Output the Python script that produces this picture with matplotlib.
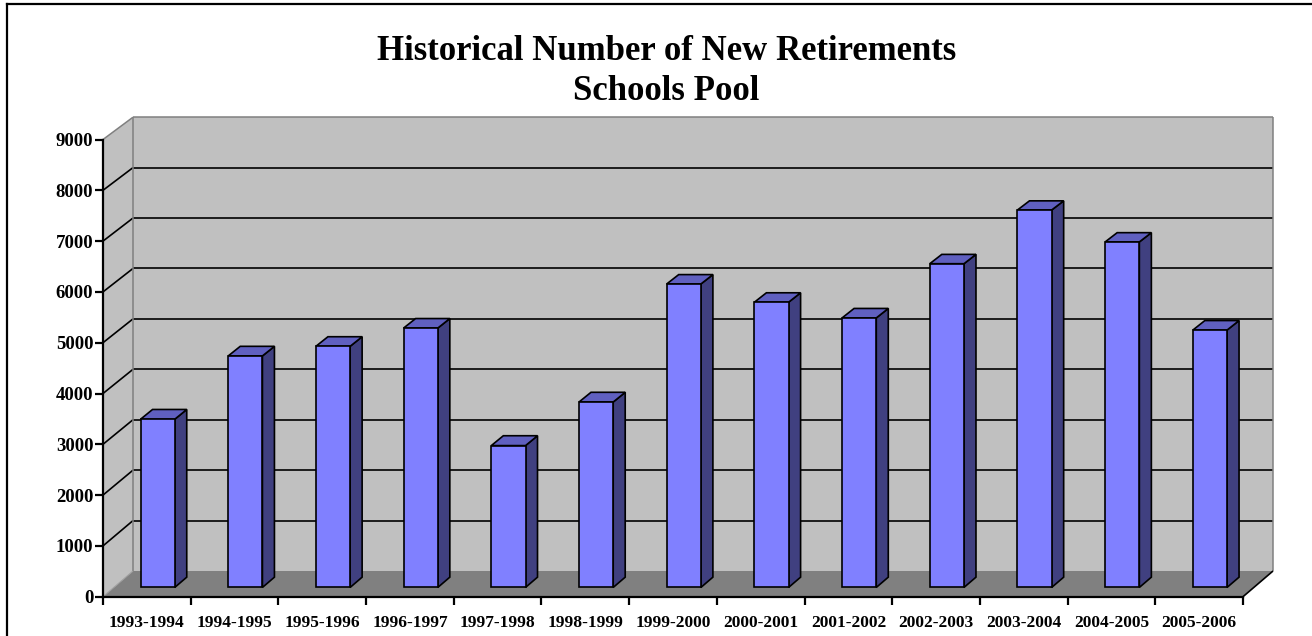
import matplotlib.pyplot as plt
from matplotlib.patches import Polygon
from matplotlib.lines import Line2D

# ------------------------------------------------------------
# data
# ------------------------------------------------------------
seasons = ["1993-1994", "1994-1995", "1995-1996", "1996-1997", "1997-1998",
           "1998-1999", "1999-2000", "2000-2001", "2001-2002", "2002-2003",
           "2003-2004", "2004-2005", "2005-2006"]
retirements = [3320, 4570, 4760, 5120, 2800, 3660, 5990,
               5630, 5320, 6390, 7450, 6820, 5080]

y_max = 9000
y_step = 1000

title_1 = "Historical Number of New Retirements"
title_2 = "Schools Pool"

# ------------------------------------------------------------
# figure / front plane of the box
# ------------------------------------------------------------
W, H = 1312, 636
fig = plt.figure(figsize=(W / 100, H / 100), dpi=100)

x0_px, x1_px = 103, 1243
y0_px, y1_px = 596.7, 139.5
ax = fig.add_axes([x0_px / W, 1 - y0_px / H,
                   (x1_px - x0_px) / W, (y0_px - y1_px) / H])
n = len(seasons)
ax.set_xlim(0, n)
ax.set_ylim(0, y_max)
ax.set_facecolor("none")

# depth of the box in data units (back wall sits ~30 px right, ~24 px up)
px_per_cat = (x1_px - x0_px) / n
px_per_val = (y0_px - y1_px) / y_max
depth_dx = 30 / px_per_cat
depth_dy_low = 25.7 / px_per_val
depth_dy_high = 22.3 / px_per_val


def proj(x, v, d):
    dy = depth_dy_low + (depth_dy_high - depth_dy_low) * v / y_max
    return (x + d * depth_dx, v + d * dy)


def face(pts, fc, ec="none", lw=0, z=1):
    ax.add_patch(Polygon(pts, closed=True, facecolor=fc, edgecolor=ec,
                         linewidth=lw, zorder=z, clip_on=False,
                         joinstyle="miter"))


def seg(p, q, color="black", lw=1.0, z=2):
    ax.add_line(Line2D([p[0], q[0]], [p[1], q[1]], color=color, lw=lw,
                       zorder=z, clip_on=False, solid_capstyle="butt"))


wall = "#c0c0c0"
floor = "#808080"
edge_grey = "#808080"

# walls and floor
face([proj(0, 0, 1), proj(n, 0, 1), proj(n, y_max, 1), proj(0, y_max, 1)], wall)
face([proj(0, 0, 0), proj(0, 0, 1), proj(0, y_max, 1), proj(0, y_max, 0)], wall)
face([proj(0, 0, 0), proj(n, 0, 0), proj(n, 0, 1), proj(0, 0, 1)], floor)

# gridlines on back wall and left wall
for v in range(y_step, y_max, y_step):
    seg(proj(0, v, 1), proj(n, v, 1), lw=1.2)
    seg(proj(0, v, 0), proj(0, v, 1), lw=1.2)

# box edges
seg(proj(0, y_max, 0), proj(0, y_max, 1), color=edge_grey, lw=1.1)
seg(proj(0, y_max, 1), proj(n, y_max, 1), color=edge_grey, lw=1.1)
seg(proj(n, y_max, 1), proj(n, 0, 1), color=edge_grey, lw=1.1)
seg(proj(0, 0, 1), proj(0, y_max, 1), color=edge_grey, lw=1.1)
seg(proj(0, 0, 0), proj(0, 0, 1), color="#a0a0a0", lw=0.8)
seg(proj(n, 0, 0), proj(n, 0, 1), lw=1.2)

# 3-D columns
bar_w = 0.39
d0, d1 = 0.36, 0.76
for i, v in enumerate(retirements):
    xl = i + 0.5 - bar_w / 2
    xr = i + 0.5 + bar_w / 2
    face([proj(xr, 0, d0), proj(xr, 0, d1), proj(xr, v, d1), proj(xr, v, d0)],
         "#404080", "black", 1.2, 3)
    face([proj(xl, v, d0), proj(xr, v, d0), proj(xr, v, d1), proj(xl, v, d1)],
         "#6060c0", "black", 1.2, 3)
    face([proj(xl, 0, d0), proj(xr, 0, d0), proj(xr, v, d0), proj(xl, v, d0)],
         "#8080ff", "black", 1.2, 4)

# ------------------------------------------------------------
# axes, ticks, labels
# ------------------------------------------------------------
for s in ("top", "right"):
    ax.spines[s].set_visible(False)
for s in ("left", "bottom"):
    ax.spines[s].set_linewidth(1.6)
    ax.spines[s].set_zorder(5)

serif = ["Liberation Serif", "DejaVu Serif"]

ax.set_yticks(range(0, y_max + 1, y_step))
ax.set_yticklabels([str(v) for v in range(0, y_max + 1, y_step)],
                   fontfamily=serif, fontweight="bold", fontsize=13.5)
ax.tick_params(axis="y", direction="out", length=6, width=1.6, pad=1)

ax.set_xticks(range(n + 1))
ax.set_xticklabels([])
ax.set_xticks([i + 0.5 for i in range(n)], minor=True)
ax.set_xticklabels(seasons, minor=True, fontfamily=serif,
                   fontweight="bold", fontsize=12.5)
ax.tick_params(axis="x", which="major", direction="out", length=6, width=1.6)
ax.tick_params(axis="x", which="minor", length=0, pad=13)

fig.text(667 / W, 1 - 51 / H, title_1, ha="center", va="center",
         fontfamily=serif, fontweight="bold", fontsize=25)
fig.text(666 / W, 1 - 92 / H, title_2, ha="center", va="center",
         fontfamily=serif, fontweight="bold", fontsize=25)

# chart border (top and left edges)
fig.add_artist(Line2D([7 / W, 1], [1 - 4 / H, 1 - 4 / H],
                      transform=fig.transFigure, color="black", lw=1.6))
fig.add_artist(Line2D([7 / W, 7 / W], [0, 1 - 4 / H],
                      transform=fig.transFigure, color="black", lw=1.6))

fig.savefig("out.png", dpi=100)
